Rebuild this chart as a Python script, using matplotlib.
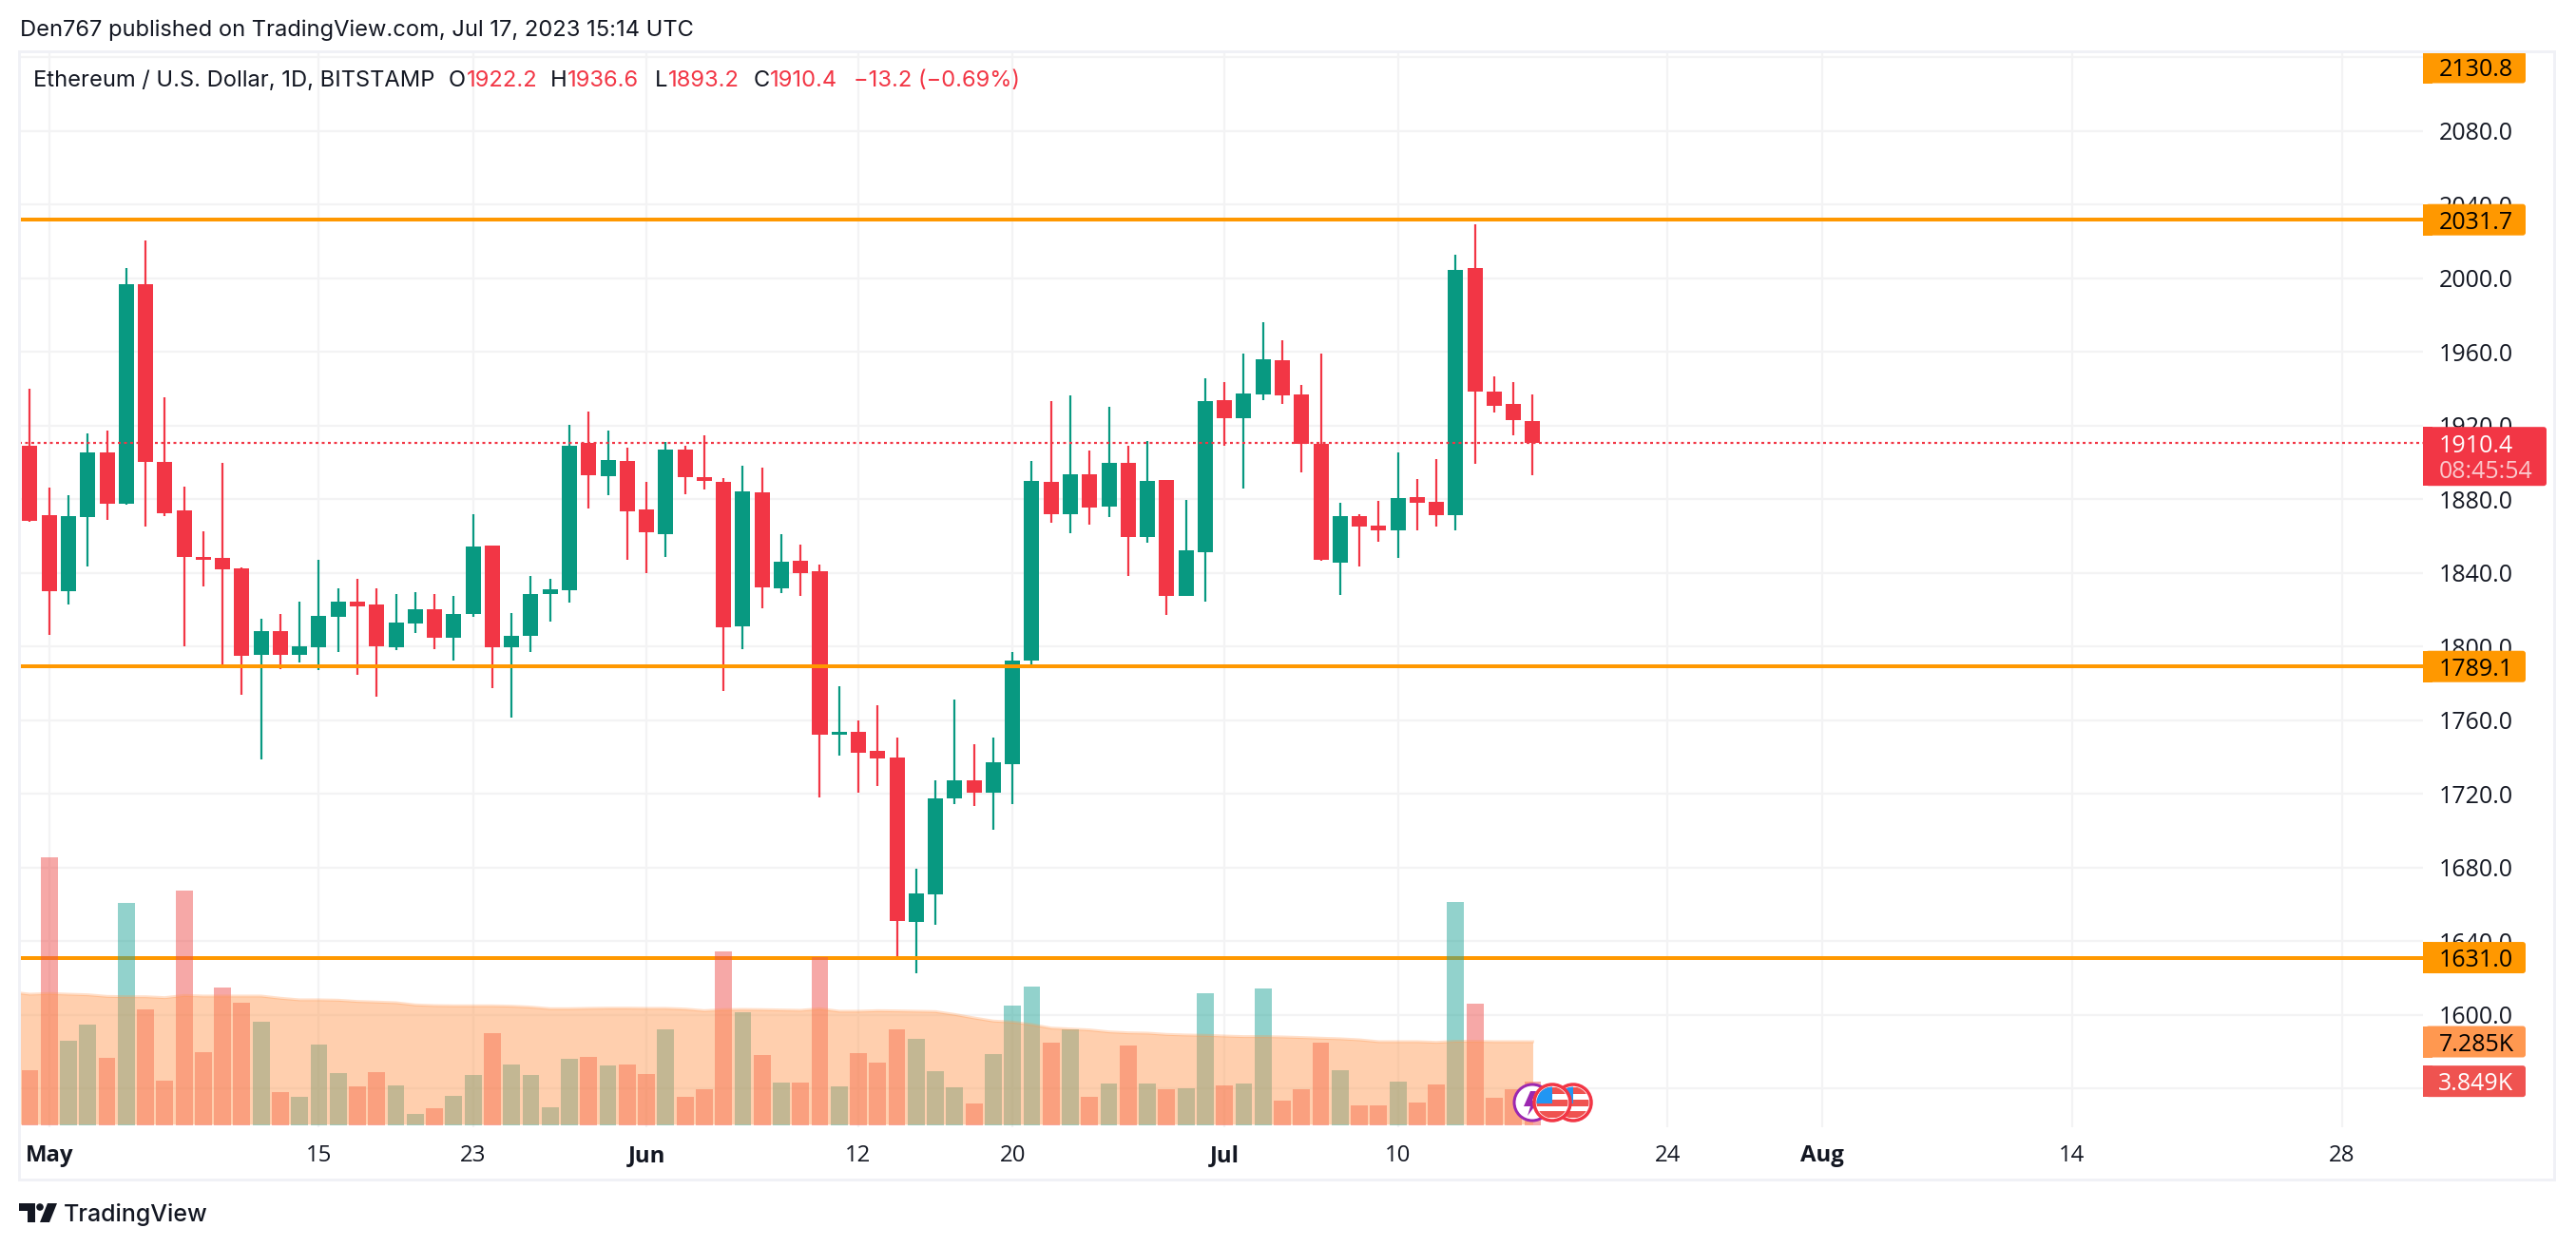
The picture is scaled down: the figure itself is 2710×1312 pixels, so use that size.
import numpy as np
import matplotlib
matplotlib.use("Agg")
import matplotlib.pyplot as plt
from matplotlib.patches import Rectangle, FancyBboxPatch, Circle, Polygon

plt.rcParams['font.family'] = ['Inter', 'DejaVu Sans']
plt.rcParams['lines.scale_dashes'] = False
NUMFONT = ['Open Sans', 'DejaVu Sans']

W, H = 2710, 1312
PX = 0.72  # points per pixel at dpi 100

day_index = list(range(-1, 78))
opens = [1909.0,1871.3,1830.1,1870.4,1905.5,1877.7,1996.6,1900.3,1873.9,1848.7,1848.3,1842.5,1795.6,1808.4,1795.6,1799.7,1816.3,1824.4,1823.0,1799.7,
         1812.5,1820.4,1804.9,1817.7,1855.0,1799.7,1805.8,1828.5,1830.7,1910.6,1892.4,1900.7,1874.5,1861.1,1907.0,1892.0,1889.5,1811.0,1883.8,1831.7,
         1846.7,1840.6,1752.3,1753.8,1743.1,1739.9,1650.4,1665.4,1717.3,1727.5,1720.5,1736.3,1792.5,1889.5,1872.0,1893.6,1876.0,1899.8,1859.2,1890.6,
         1827.5,1851.3,1933.8,1924.0,1936.9,1955.5,1936.9,1910.1,1845.7,1870.9,1865.8,1863.2,1881.2,1878.6,1871.4,2005.5,1938.5,1931.8,1922.2]
highs = [1940.0,1886.3,1882.2,1915.7,1917.3,2005.5,2020.3,1935.3,1886.9,1862.7,1899.7,1843.1,1815.1,1817.7,1824.4,1847.1,1831.7,1836.8,1831.7,1828.5,
         1829.7,1828.5,1827.5,1871.9,1855.0,1818.3,1838.4,1836.8,1920.5,1927.6,1917.3,1908.0,1889.5,1911.0,1909.0,1914.7,1891.5,1898.2,1897.2,1861.1,
         1855.4,1844.6,1778.2,1759.6,1767.9,1750.4,1679.2,1727.5,1770.9,1746.8,1750.4,1796.8,1900.8,1933.3,1936.3,1906.4,1930.1,1909.2,1911.5,1890.6,
         1879.7,1945.7,1943.6,1959.1,1976.1,1966.3,1942.1,1959.1,1878.1,1871.9,1879.2,1905.5,1891.0,1901.9,2012.7,2029.2,1946.7,1943.6,1936.6]
lows = [1867.8,1806.4,1823.0,1843.5,1868.8,1877.1,1865.2,1870.9,1800.3,1832.7,1790.3,1773.9,1738.5,1787.9,1791.4,1787.3,1797.2,1784.7,1772.9,1797.8,
        1807.4,1798.7,1792.4,1816.3,1777.6,1761.1,1797.2,1813.7,1824.0,1875.1,1882.2,1847.1,1840.0,1848.7,1882.8,1885.3,1776.0,1798.7,1820.8,1829.1,
        1827.5,1717.9,1740.6,1720.5,1724.1,1632.0,1622.4,1648.7,1714.3,1713.6,1700.4,1714.3,1788.0,1867.3,1861.7,1866.2,1870.5,1838.0,1856.4,1816.9,
        1827.5,1824.5,1909.1,1885.9,1933.8,1931.8,1894.6,1846.7,1828.1,1843.6,1857.0,1848.2,1863.2,1865.3,1863.2,1899.3,1927.1,1914.7,1893.2]
closes = [1868.4,1830.1,1870.9,1905.5,1877.7,1996.6,1900.3,1872.3,1848.7,1847.1,1841.9,1795.0,1808.4,1795.6,1800.3,1816.7,1824.4,1821.8,1800.3,1813.1,
          1820.4,1804.9,1817.7,1854.4,1799.7,1805.8,1828.5,1831.1,1909.0,1893.0,1901.3,1873.5,1862.1,1907.0,1892.0,1889.9,1810.6,1884.4,1832.3,1846.1,
          1840.0,1752.3,1753.8,1742.5,1738.9,1650.8,1665.8,1717.3,1727.5,1720.5,1736.9,1792.5,1889.9,1872.0,1893.6,1875.6,1899.8,1859.2,1889.9,1827.5,
          1852.3,1933.3,1924.0,1937.4,1956.0,1936.4,1910.1,1847.2,1870.9,1865.3,1863.2,1880.7,1878.1,1871.4,2004.4,1938.5,1930.7,1923.0,1910.4]
volumes = [4.79,23.27,7.34,8.75,5.86,19.31,10.07,3.88,20.38,6.35,11.96,10.64,8.99,2.89,2.48,7.01,4.54,3.38,4.62,3.47,
           0.99,1.49,2.56,4.37,8.0,5.28,4.37,1.57,5.78,5.94,5.2,5.28,4.46,8.33,2.48,3.14,15.1,9.82,6.11,3.71,
           3.71,14.6,3.41,6.3,5.47,8.36,7.54,4.73,3.33,1.93,6.22,10.42,12.07,7.21,8.36,2.5,3.66,6.96,3.66,3.16,
           3.25,11.5,3.49,3.66,11.91,2.17,3.16,7.21,4.81,1.76,1.76,3.82,2.01,3.58,19.4,10.59,2.42,3.16,3.849]
ma_index = list(range(-2, 78))
volume_ma = [11.6,11.41,11.47,11.41,11.36,11.22,11.19,11.19,11.11,11.3,11.25,11.25,11.25,11.25,11.06,10.92,10.92,10.89,10.78,10.73,
             10.67,10.48,10.42,10.4,10.4,10.4,10.37,10.29,10.15,10.15,10.18,10.2,10.2,10.18,10.18,10.12,9.98,10.07,10.09,10.07,
             10.04,10.01,10.15,9.93,9.93,9.98,9.96,9.93,9.9,9.65,9.35,9.08,8.99,8.77,8.47,8.39,8.31,8.14,8.06,8.03,
             7.92,7.87,7.84,7.78,7.73,7.73,7.7,7.65,7.59,7.54,7.45,7.29,7.29,7.29,7.23,7.32,7.32,7.29,7.29,7.285]
levels = [2031.7, 1789.1, 1631.0]
last_price = 1910.4
price_ticks = [1560,1600,1640,1680,1720,1760,1800,1840,1880,1920,1960,2000,2040,2080,2120]
unlabelled_ticks = {1560, 2120}
date_ticks = [0,14,22,31,42,50,61,70,84,92,105,119]
date_labels = ['May','15','23','Jun','12','20','Jul','10','24','Aug','14','28']
month_labels = {'May','Jun','Jul','Aug'}

GREEN, RED = '#089981', '#F23645'
INK = '#131722'
GRID = '#F3F3F4'
ORANGE = '#FF9800'
PRICE_FS = 25*PX

fig = plt.figure(figsize=(W/100, H/100), dpi=100, facecolor='white')
L, R, T, B = 20, 2548.5, 54.5, 1186
rect = [L/W, 1-B/H, (R-L)/W, (B-T)/H]

ax = fig.add_axes(rect)
ax.set_xlim((L-51.7)/20.27, (R-51.7)/20.27)
ax.set_ylim(2000-(B-292.6)/1.9375, 2000+(292.6-T)/1.9375)
for s in ax.spines.values():
    s.set_visible(False)
ax.set_axisbelow(True)
ax.yaxis.tick_right()
ax.set_yticks(price_ticks)
ax.set_yticklabels(['' if p in unlabelled_ticks else f'{p:.1f}' for p in price_ticks],
                   fontsize=PRICE_FS, color=INK, ha='left', family=NUMFONT)
ax.set_xticks(date_ticks)
ax.set_xticklabels(date_labels, fontsize=24*PX, color=INK, family=NUMFONT)
for lab in ax.get_xticklabels():
    if lab.get_text() in month_labels:
        lab.set_fontweight('bold')
ax.tick_params(axis='y', length=0, pad=17*PX)
ax.tick_params(axis='x', length=0, pad=18*PX)
ax.grid(True, color=GRID, lw=2.2*PX)

idx = np.array(day_index)
o, h, l, c = map(np.array, (opens, highs, lows, closes))
colors = [GREEN if cc >= oo else RED for oo, cc in zip(o, c)]
ax.vlines(idx, l, h, colors=colors, lw=2.2*PX, zorder=3)
ax.bar(idx, np.abs(c-o), bottom=np.minimum(o, c), width=0.79, color=colors, linewidth=0, zorder=3.2)
for lv in levels:
    ax.axhline(lv, color=ORANGE, lw=4*PX, zorder=4)
ax.axhline(last_price, color=RED, lw=2.2*PX, ls=(0, (3*PX, 3.5*PX)), zorder=5)

axv = fig.add_axes(rect, sharex=ax)
axv.patch.set_alpha(0)
axv.set_ylim(-1.7/12.12, (1184.3-T)/12.12)
axv.axis('off')
vcolors = ['#26A69A' if cc >= oo else '#EF5350' for oo, cc in zip(o, c)]
axv.bar(idx, volumes, width=0.88, color=vcolors, alpha=0.5, linewidth=0, zorder=2)
axv.fill_between(ma_index, 0.12, volume_ma, color='#FF9850', alpha=0.46, linewidth=0, zorder=3)
axv.plot(ma_index, volume_ma, color='#FF9850', alpha=0.3, lw=3*PX, zorder=4)

# overlay in pixel units for chrome: price badges, events, logo, header
ov = fig.add_axes([0, 0, 1, 1])
ov.set_xlim(0, W); ov.set_ylim(H, 0); ov.axis('off'); ov.patch.set_alpha(0)

def ypx(a, v):
    return H - a.transData.transform((0, v))[1]

def badge(yc, text, fc, tc='black', x1=2657, hh=16.5):
    ov.add_patch(FancyBboxPatch((2552, yc-hh), x1-2552, 2*hh, boxstyle='round,pad=0,rounding_size=3',
                                fc=fc, ec='none', zorder=10))
    ov.add_patch(Rectangle((2548.5, yc-hh), 10, 2*hh, fc=fc, ec='none', zorder=10))
    ov.text(2605, yc, text, ha='center', va='center_baseline', color=tc, fontsize=PRICE_FS, zorder=11, family=NUMFONT)

badge(71, '2130.8', ORANGE)
for lv in levels:
    badge(ypx(ax, lv), f'{lv:.1f}', ORANGE)
badge(ypx(axv, 7.285), '7.285K', '#FF9850')
badge(ypx(axv, 3.849), '3.849K', '#EF5350', tc='white')
yl = ypx(ax, last_price)
ov.add_patch(FancyBboxPatch((2552, yl-17), 2679-2552, 62, boxstyle='round,pad=0,rounding_size=3', fc=RED, ec='none', zorder=10))
ov.add_patch(Rectangle((2548.5, yl-17), 10, 62, fc=RED, ec='none', zorder=10))
ov.text(2566, yl, '1910.4', ha='left', va='center_baseline', color='white', fontsize=PRICE_FS, zorder=11, family=NUMFONT)
ov.text(2566, yl+27, '08:45:54', ha='left', va='center_baseline', color='#FBC9CD', fontsize=PRICE_FS, zorder=11, family=NUMFONT)

# outer frame
fig.add_artist(Rectangle((20/W, 1-1241/H), (2687-20)/W, (1241-54)/H, transform=fig.transFigure,
                         fill=False, ec='#F0F1F6', lw=3*PX))

# header texts
HEAD_FS = 23.7*PX
ov.text(21, 32, 'Den767 published on TradingView.com, Jul 17, 2023 15:14 UTC', ha='left', va='center', color=INK, fontsize=HEAD_FS)
legend_parts = [(35, 'Ethereum / U.S. Dollar, 1D, BITSTAMP', INK), (472, 'O', INK), (491, '1922.2', RED),
                (579, 'H', INK), (597, '1936.6', RED), (689, 'L', INK), (703, '1893.2', RED),
                (793, 'C', INK), (810, '1910.4', RED), (898, '\u221213.2 (\u22120.69%)', RED)]
for x, s, col in legend_parts:
    ov.text(x, 85, s, ha='left', va='center', color=col, fontsize=HEAD_FS)

# logo
ov.add_patch(Polygon([(20,1266),(37,1266),(37,1286),(29,1286),(29,1274),(20,1274)], fc=INK, ec='none'))
ov.add_patch(Circle((42,1270), 3.8, fc=INK, ec='none'))
ov.add_patch(Polygon([(50,1266),(60,1266),(52,1286),(42,1286)], fc=INK, ec='none'))
ov.text(67, 1278, 'TradingView', ha='left', va='center', color=INK, fontsize=25*PX, fontweight='medium')

# event icons
ex, ey = 1612, 1160
ov.add_patch(Circle((ex, ey), 19, fc='white', ec='#9C27B0', lw=3*PX, zorder=6))
ov.add_patch(Polygon([(ex-2,ey-12),(ex-9,ey+4),(ex-2,ey+4),(ex-5,ey+14),(ex+7,ey-2),(ex,ey-2),(ex+4,ey-12)], fc='#9C27B0', ec='none', zorder=6))
for cx, zz in ((1655, 7), (1633, 8)):
    ring = Circle((cx, ey), 19, fc='white', ec=RED, lw=3.5*PX, zorder=zz)
    ov.add_patch(ring)
    clip = Circle((cx, ey), 16.5, transform=ov.transData)
    for yy in (ey-16, ey-3, ey+9):
        r = Rectangle((cx-17, yy), 34, 7, fc='#EF5350', ec='none', zorder=zz+0.1)
        ov.add_patch(r); r.set_clip_path(clip)
    r = Rectangle((cx-17, ey-17), 17, 18, fc='#2196F3', ec='none', zorder=zz+0.2)
    ov.add_patch(r); r.set_clip_path(clip)

fig.savefig('out.png', dpi=100, facecolor='white')
